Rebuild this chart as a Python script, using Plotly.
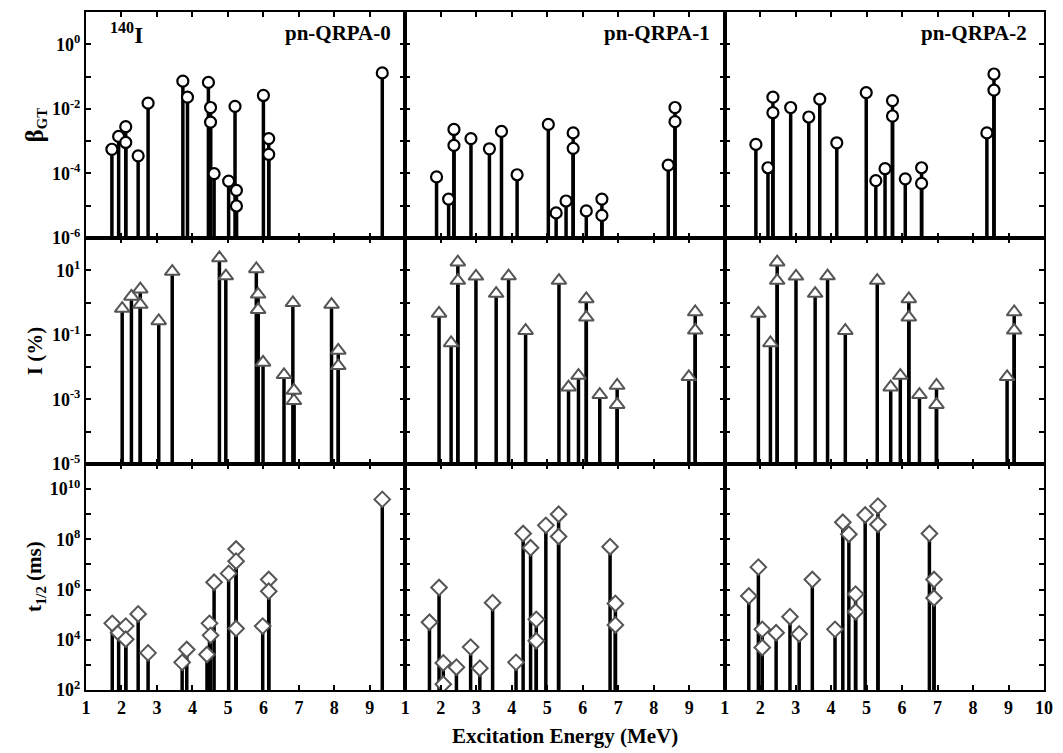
import plotly.graph_objects as go
from plotly.subplots import make_subplots

# ---------------- Data ----------------
# Row 1: B(GT) strengths (circles)
bgt_E_0 = [1.73, 1.92, 2.12, 2.12, 2.47, 2.75, 3.73, 3.86, 4.45, 4.51, 4.51, 4.61, 5.02, 5.20, 5.24, 5.24, 6.00, 6.15, 6.15, 9.35]
bgt_V_0 = [5.6e-4, 1.4e-3, 2.8e-3, 9.1e-4, 3.5e-4, 1.5e-2, 7.2e-2, 2.3e-2, 6.6e-2, 1.1e-2, 3.9e-3, 9.8e-5, 5.8e-5, 1.2e-2, 3.0e-5, 9.8e-6, 2.6e-2, 1.2e-3, 3.9e-4, 1.3e-1]
bgt_E_1 = [1.88, 2.22, 2.37, 2.37, 2.85, 3.37, 3.71, 4.15, 5.03, 5.25, 5.53, 5.73, 5.73, 6.10, 6.54, 6.54, 8.41, 8.60, 8.60]
bgt_V_1 = [7.8e-5, 1.6e-5, 2.3e-3, 7.4e-4, 1.2e-3, 5.8e-4, 2.0e-3, 9.1e-5, 3.3e-3, 6.0e-6, 1.4e-5, 1.8e-3, 6.0e-4, 6.9e-6, 1.6e-5, 5.0e-6, 1.8e-4, 1.1e-2, 4.0e-3]
bgt_E_2 = [1.88, 2.22, 2.36, 2.36, 2.86, 3.37, 3.68, 4.16, 4.99, 5.26, 5.52, 5.73, 5.73, 6.09, 6.55, 6.55, 8.39, 8.59, 8.59]
bgt_V_2 = [7.9e-4, 1.5e-4, 2.3e-2, 7.6e-3, 1.1e-2, 5.6e-3, 2.0e-2, 8.9e-4, 3.2e-2, 6.0e-5, 1.4e-4, 1.8e-2, 6.0e-3, 6.8e-5, 1.5e-4, 4.9e-5, 1.8e-3, 1.2e-1, 3.8e-2]

# Row 2: branching intensities I (%) (triangles)
int_E_0 = [2.02, 2.28, 2.53, 2.53, 3.05, 3.43, 4.76, 4.94, 5.80, 5.85, 5.85, 5.99, 6.58, 6.83, 6.86, 6.86, 7.92, 8.11, 8.11]
int_V_0 = [0.65, 1.55, 2.6, 0.87, 0.27, 9.1, 24.0, 6.6, 11.0, 1.8, 0.60, 0.014, 0.0058, 0.98, 0.0019, 0.00091, 0.87, 0.033, 0.011]
int_E_1 = [1.95, 2.29, 2.48, 2.48, 2.99, 3.56, 3.91, 4.39, 5.33, 5.60, 5.88, 6.10, 6.10, 6.48, 6.97, 6.97, 8.99, 9.17, 9.17]
int_V_1 = [0.46, 0.056, 17.8, 4.8, 6.5, 1.9, 6.6, 0.135, 4.8, 0.0024, 0.0055, 1.3, 0.35, 0.0014, 0.0027, 0.00069, 0.0050, 0.51, 0.138]
int_E_2 = [1.95, 2.29, 2.48, 2.48, 3.01, 3.55, 3.90, 4.40, 5.30, 5.68, 5.95, 6.19, 6.19, 6.49, 6.97, 6.97, 8.96, 9.16, 9.16]
int_V_2 = [0.46, 0.056, 17.8, 4.8, 6.5, 1.9, 6.6, 0.135, 4.8, 0.0024, 0.0055, 1.3, 0.35, 0.0014, 0.0027, 0.00069, 0.0050, 0.51, 0.138]

# Row 3: partial half-lives t1/2 (ms) (diamonds)
thl_E_0 = [1.74, 1.92, 2.12, 2.12, 2.47, 2.75, 3.71, 3.84, 4.41, 4.48, 4.51, 4.61, 5.02, 5.23, 5.23, 5.23, 5.98, 6.15, 6.15, 9.35]
thl_V_0 = [4.5e4, 1.9e4, 3.5e4, 1.05e4, 1.07e5, 3.0e3, 1.26e3, 4.1e3, 2.6e3, 4.5e4, 1.5e4, 1.95e6, 4.4e6, 4.1e7, 1.35e7, 2.8e4, 3.5e4, 2.5e6, 8.5e5, 3.9e9]
thl_E_1 = [1.68, 1.95, 2.07, 2.07, 2.44, 2.84, 3.10, 3.46, 4.12, 4.32, 4.53, 4.69, 4.69, 4.96, 5.32, 5.32, 6.77, 6.92, 6.92]
thl_V_1 = [5.0e4, 1.2e6, 1.2e3, 1.7e2, 8.1e2, 5.1e3, 7.4e2, 3.0e5, 1.26e3, 1.7e8, 4.6e7, 6.5e4, 9.1e3, 3.6e8, 1.0e9, 1.3e8, 5.1e7, 2.8e5, 3.9e4]
thl_E_2 = [1.68, 1.95, 2.06, 2.06, 2.45, 2.84, 3.10, 3.47, 4.11, 4.33, 4.50, 4.69, 4.69, 4.96, 5.32, 5.32, 6.77, 6.90, 6.90]
thl_V_2 = [5.5e5, 7.8e6, 2.6e4, 4.9e3, 1.9e4, 8.3e4, 1.7e4, 2.5e6, 2.6e4, 4.8e8, 1.6e8, 6.6e5, 1.3e5, 9.3e8, 2.1e9, 3.9e8, 1.7e8, 2.5e6, 4.6e5]

model_labels = ["pn-QRPA-0", "pn-QRPA-1", "pn-QRPA-2"]
x_tick_vals_inner = [1, 2, 3, 4, 5, 6, 7, 8, 9]
x_tick_vals_last = [1, 2, 3, 4, 5, 6, 7, 8, 9, 10]

rows_data = [
    [(bgt_E_0, bgt_V_0), (bgt_E_1, bgt_V_1), (bgt_E_2, bgt_V_2)],
    [(int_E_0, int_V_0), (int_E_1, int_V_1), (int_E_2, int_V_2)],
    [(thl_E_0, thl_V_0), (thl_E_1, thl_V_1), (thl_E_2, thl_V_2)],
]
row_log_range = [(-6, 1), (-5, 2), (2, 11)]
row_label_exps = [[-6, -4, -2, 0], [-5, -3, -1, 1], [2, 4, 6, 8, 10]]
row_symbols = ["circle-open", "triangle-up", "diamond"]
row_marker_color = ["black", "#555555", "#555555"]
row_marker_size = [11, 13, 12]

FONT = "Liberation Serif"

fig = make_subplots(rows=3, cols=3, horizontal_spacing=0, vertical_spacing=0)

for r in range(3):
    lo, hi = row_log_range[r]
    base = 10 ** lo
    for c in range(3):
        E, V = rows_data[r][c]
        xs, ys = [], []
        for e, v in zip(E, V):
            xs += [e, e, None]
            ys += [base, v, None]
        fig.add_trace(go.Scatter(x=xs, y=ys, mode="lines",
                                 line=dict(color="black", width=3.5),
                                 showlegend=False, hoverinfo="skip"),
                      row=r + 1, col=c + 1)
        sym = row_symbols[r]
        if sym == "circle-open":
            marker = dict(symbol="circle", size=row_marker_size[r], color="white",
                          line=dict(color="black", width=2.2))
        else:
            marker = dict(symbol=sym, size=row_marker_size[r], color="white",
                          line=dict(color=row_marker_color[r], width=2))
        fig.add_trace(go.Scatter(x=E, y=V, mode="markers", marker=marker,
                                 showlegend=False),
                      row=r + 1, col=c + 1)

        # axes
        major = row_label_exps[r]
        minor_vals = [10 ** k for k in range(lo, hi + 1) if k not in major]
        fig.update_yaxes(type="log", range=[lo, hi],
                         tickvals=[10 ** k for k in major],
                         ticktext=["10<sup>%d</sup>" % k for k in major],
                         minor=dict(tickvals=minor_vals, ticks="inside", ticklen=5, tickwidth=2,
                                    tickcolor="black", showgrid=False),
                         showticklabels=(c == 0), ticks="inside", ticklen=5, tickwidth=2,
                         tickcolor="black", showline=True, linewidth=2, linecolor="black",
                         mirror="ticks", showgrid=False, zeroline=False,
                         tickfont=dict(family=FONT, size=18, color="black", weight="bold"),
                         row=r + 1, col=c + 1)
        xt = x_tick_vals_last if c == 2 else x_tick_vals_inner
        fig.update_xaxes(range=[1, 10], tickvals=xt, ticktext=[str(v) for v in xt],
                         showticklabels=(r == 2), ticks="inside", ticklen=5, tickwidth=2,
                         tickcolor="black", showline=True, linewidth=2, linecolor="black",
                         mirror="ticks", showgrid=False, zeroline=False,
                         tickfont=dict(family=FONT, size=18, color="black", weight="bold"),
                         row=r + 1, col=c + 1)

annotations = []
# Model labels in the top row
label_x = [0.962, 0.96, 0.953]
for c in range(3):
    xref = "x domain" if c == 0 else "x%d domain" % (c + 1)
    yref = "y domain" if c == 0 else "y%d domain" % (c + 1)
    annotations.append(dict(text="<b>%s</b>" % model_labels[c], x=label_x[c], y=0.905,
                            xref=xref, yref=yref, xanchor="right", yanchor="middle",
                            showarrow=False, font=dict(family=FONT, size=21, color="black")))
annotations.append(dict(text="<b><sup>140</sup>I</b>", x=0.07, y=0.905, xref="x domain", yref="y domain",
                        xanchor="left", yanchor="middle", showarrow=False,
                        font=dict(family=FONT, size=23, color="black")))
# Y-axis titles
y_titles = ["<b><span style='font-size:25px'>β</span><sub>GT</sub></b>", "<b>I (%)</b>", "<b>t<sub>1/2</sub> (ms)</b>"]
y_centers = [0.833, 0.5, 0.167]
for i in range(3):
    annotations.append(dict(text=y_titles[i], x=-0.053, y=y_centers[i], xref="paper", yref="paper",
                            xanchor="center", yanchor="middle", textangle=-90, showarrow=False,
                            font=dict(family=FONT, size=21, color="black")))
annotations.append(dict(text="<b>Excitation Energy (MeV)</b>", x=0.5, y=-0.068, xref="paper", yref="paper",
                        xanchor="center", yanchor="middle", showarrow=False,
                        font=dict(family=FONT, size=21, color="black")))

fig.update_layout(width=1063, height=753, margin=dict(l=86, r=18, t=10, b=63),
                  paper_bgcolor="white", plot_bgcolor="white", annotations=annotations,
                  font=dict(family=FONT, color="black"))

fig.write_html("out.html")
